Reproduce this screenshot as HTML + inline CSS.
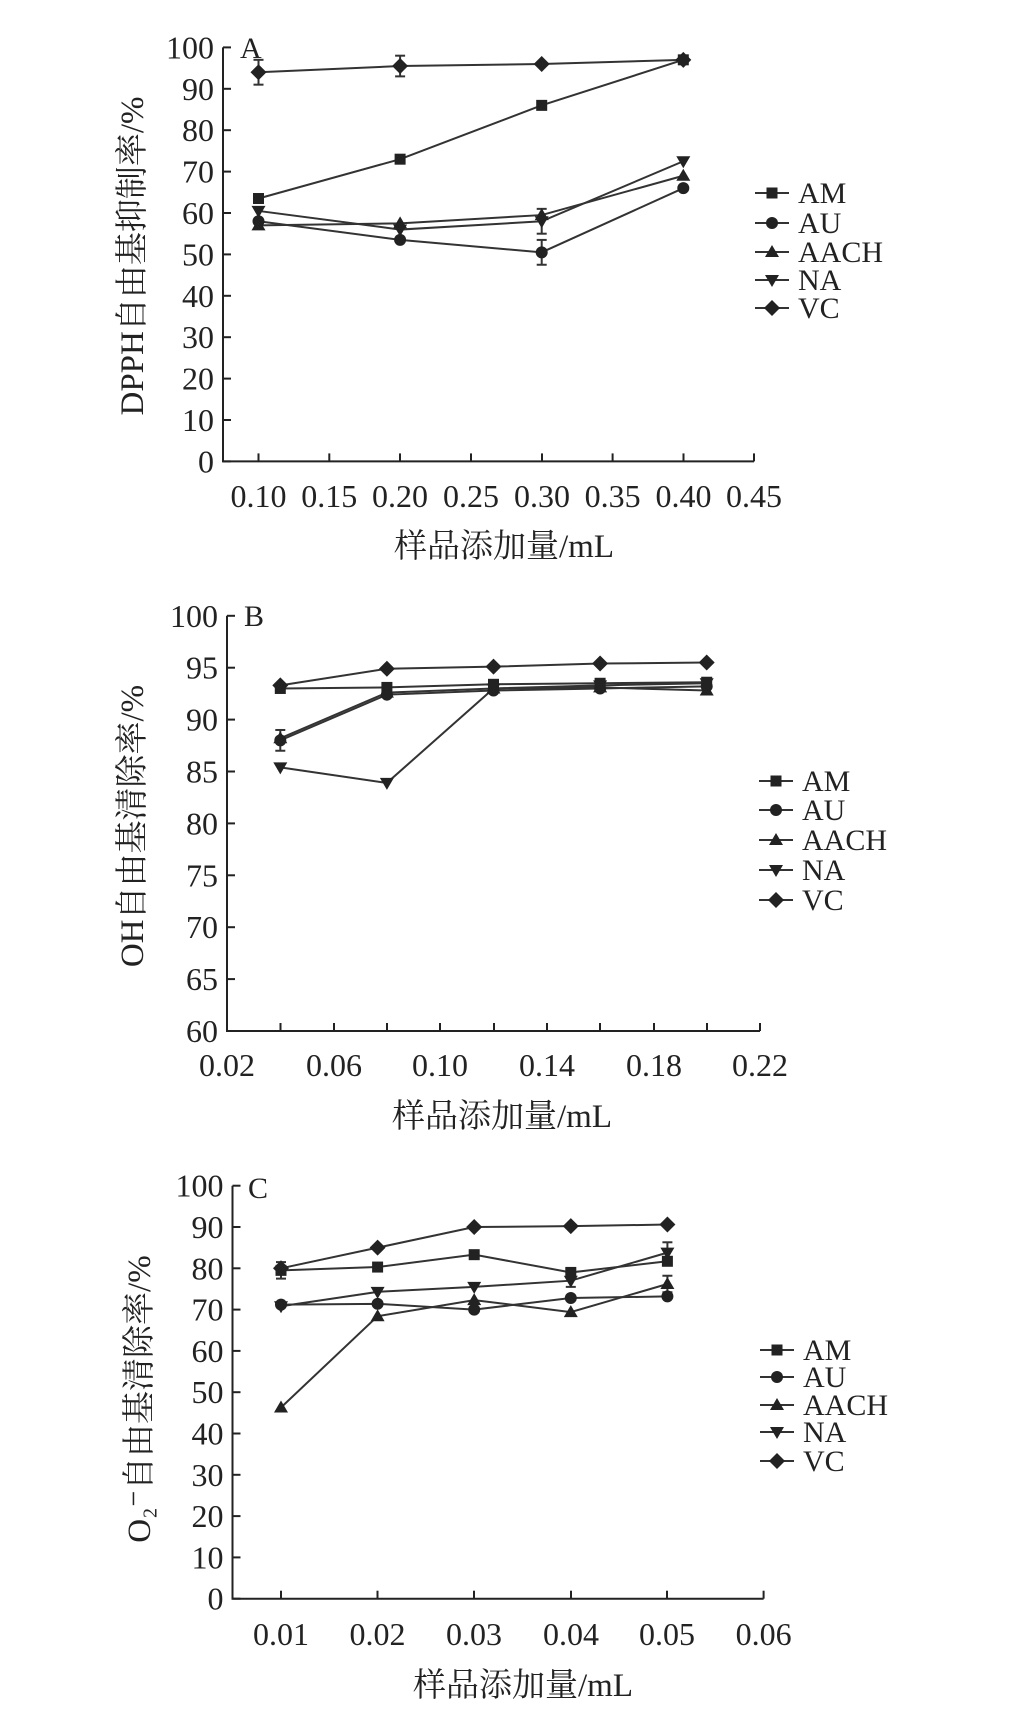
<!DOCTYPE html>
<html><head><meta charset="utf-8"><style>
html,body{margin:0;padding:0;background:#fff;}
svg{display:block;}
text{font-family:"Liberation Serif","Noto Serif CJK SC","Noto Sans CJK SC",serif;fill:#222;}
</style></head><body>
<svg id="s" width="1023" height="1724" viewBox="0 0 1023 1724" xmlns="http://www.w3.org/2000/svg"></svg>
<script>
const S=document.getElementById('s');let h='';
function mk(t,x,y){const s=5.5;
 if(t=='sq')return `<rect x="${x-s}" y="${y-s}" width="${2*s}" height="${2*s}" fill="#222"/>`;
 if(t=='ci')return `<circle cx="${x}" cy="${y}" r="6" fill="#222"/>`;
 if(t=='up')return `<polygon points="${x},${y-7} ${x-7},${y+5} ${x+7},${y+5}" fill="#222"/>`;
 if(t=='dn')return `<polygon points="${x},${y+7} ${x-7},${y-5} ${x+7},${y-5}" fill="#222"/>`;
 return `<polygon points="${x},${y-8} ${x+8},${y} ${x},${y+8} ${x-8},${y}" fill="#222"/>`;}
const types=['sq','ci','up','dn','di'],names=['AM','AU','AACH','NA','VC'];
function chart(c){
 const X=v=>c.x0+(v-c.xa)*c.xs, Y=v=>c.y0-(v-c.ya)*c.ys;
 h+=`<polyline points="${c.ax},${Y(c.ymax)} ${c.ax},${c.y0} ${c.axr},${c.y0}" fill="none" stroke="#222" stroke-width="2"/>`;
 for(let v=c.ya;v<=c.ymax+1e-9;v+=c.ystep){const y=Y(v);h+=`<line x1="${c.ax}" y1="${y}" x2="${c.ax+8}" y2="${y}" stroke="#222" stroke-width="2"/>`;
  h+=`<text x="${c.ax-9}" y="${y+11}" font-size="32" text-anchor="end">${v}</text>`;}
 c.xt.forEach(p=>{h+=`<line x1="${p}" y1="${c.y0}" x2="${p}" y2="${c.y0-8}" stroke="#222" stroke-width="2"/>`;});
 c.xl.forEach(([p,l])=>{h+=`<text x="${p}" y="${c.xly}" font-size="32" text-anchor="middle">${l}</text>`;});
 h+=`<text x="${c.lx}" y="${c.ly}" font-size="30">${c.lab}</text>`;
 h+=`<text transform="translate(${c.tx},${c.ty}) rotate(-90)" font-size="33" text-anchor="middle">${c.title}</text>`;
 h+=`<text x="${c.xtx}" y="${c.xty}" font-size="33" text-anchor="middle">样品添加量/mL</text>`;
 c.data.forEach((d,i)=>{h+=`<polyline points="${d.map((v,j)=>X(c.xs0[j])+','+Y(v)).join(' ')}" fill="none" stroke="#333" stroke-width="2"/>`;});
 (c.err||[]).forEach(([i,j,e])=>{const x=X(c.xs0[j]),v=c.data[i][j];h+=`<line x1="${x}" y1="${Y(v+e)}" x2="${x}" y2="${Y(v-e)}" stroke="#333" stroke-width="2"/><line x1="${x-5}" y1="${Y(v+e)}" x2="${x+5}" y2="${Y(v+e)}" stroke="#333" stroke-width="2"/><line x1="${x-5}" y1="${Y(v-e)}" x2="${x+5}" y2="${Y(v-e)}" stroke="#333" stroke-width="2"/>`;});
 c.data.forEach((d,i)=>d.forEach((v,j)=>{h+=mk(types[i],X(c.xs0[j]),Y(v));}));
 c.leg.forEach((y,i)=>{h+=`<line x1="${c.legx-17}" y1="${y}" x2="${c.legx+17}" y2="${y}" stroke="#333" stroke-width="2"/>`+mk(types[i],c.legx,y)+`<text x="${c.legx+26}" y="${y+10}" font-size="30">${names[i]}</text>`;});
}
chart({x0:258.5,xa:0.10,xs:1416,y0:461.4,ya:0,ys:4.14,ymax:100,ystep:10,ax:223,axr:754,
 xt:[258.5,329.3,400,471,542,612.6,683.5,754],
 xl:[[258.5,'0.10'],[329.3,'0.15'],[400,'0.20'],[471,'0.25'],[542,'0.30'],[612.6,'0.35'],[683.5,'0.40'],[754,'0.45']],xly:507,
 lab:'A',lx:240,ly:58,title:'DPPH自由基抑制率/%',tx:143,ty:256,xtx:504,xty:557,
 xs0:[0.1,0.2,0.3,0.4],
 data:[[63.5,73,86,97],[58,53.5,50.5,66],[57,57.5,59.5,69],[60.5,56,58,72.5],[94,95.5,96,97]],
 err:[[4,0,3],[4,1,2.5],[1,2,3],[3,2,3]],leg:[193,223,252,280,308],legx:772});
chart({x0:227,xa:0.02,xs:2665,y0:1031,ya:60,ys:10.38,ymax:100,ystep:5,ax:227,axr:760,
 xt:[280.5,334,387,440,494,547,600,654,707,760],
 xl:[[227,'0.02'],[334,'0.06'],[440,'0.10'],[547,'0.14'],[654,'0.18'],[760,'0.22']],xly:1076,
 lab:'B',lx:244,ly:626,title:'OH自由基清除率/%',tx:143,ty:826,xtx:502,xty:1127,
 xs0:[0.04,0.08,0.12,0.16,0.20],
 data:[[93,93.1,93.4,93.5,93.6],[88,92.4,92.8,93,93.2],[88.2,92.6,93,93.1,92.8],[85.4,83.9,93,93.3,93.5],[93.3,94.9,95.1,95.4,95.5]],
 err:[[1,0,1]],leg:[781,810,840,870,900],legx:776});
chart({x0:281,xa:0.01,xs:9660,y0:1598.7,ya:0,ys:4.13,ymax:100,ystep:10,ax:232.5,axr:763.6,
 xt:[281,377.5,474,571,667,763.6],
 xl:[[281,'0.01'],[377.5,'0.02'],[474,'0.03'],[571,'0.04'],[667,'0.05'],[763.6,'0.06']],xly:1645,
 lab:'C',lx:248,ly:1198,title:'O₂⁻自由基清除率/%',tx:150,ty:1399,xtx:523,xty:1696,
 xs0:[0.01,0.02,0.03,0.04,0.05],
 data:[[79.5,80.3,83.3,79,81.7],[71.2,71.4,70,72.8,73.2],[46.3,68.4,72.3,69.4,76.2],[70.8,74.3,75.5,77,83.8],[80,85,90,90.2,90.6]],
 err:[[0,0,2],[3,4,2.5],[2,4,2],[3,3,1.5]],leg:[1350,1377,1405,1432,1461],legx:777});
S.innerHTML=h;
</script>
</body></html>
